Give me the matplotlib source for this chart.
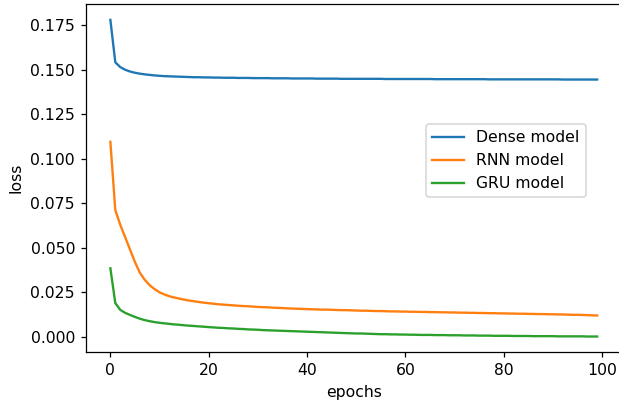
import numpy as np
import matplotlib
matplotlib.use('Agg')
import matplotlib.pyplot as plt

# loss per epoch
dense_loss = [0.1780, 0.1542, 0.1515, 0.1500, 0.1490, 0.1483, 0.1478, 0.1474, 0.1471, 0.1468,
              0.1466, 0.1464, 0.1463, 0.1462, 0.1461, 0.1460, 0.1459, 0.1458, 0.1458, 0.1457,
              0.1457, 0.1456, 0.1456, 0.1455, 0.1455, 0.1455, 0.1454, 0.1454, 0.1454, 0.1453,
              0.1453, 0.1453, 0.1453, 0.1452, 0.1452, 0.1452, 0.1452, 0.1451, 0.1451, 0.1451,
              0.1451, 0.1451, 0.1450, 0.1450, 0.1450, 0.1450, 0.1450, 0.1449, 0.1449, 0.1449,
              0.1449, 0.1449, 0.1449, 0.1449, 0.1449, 0.1449, 0.1448, 0.1448, 0.1448, 0.1448,
              0.1448, 0.1448, 0.1448, 0.1448, 0.1448, 0.1448, 0.1447, 0.1447, 0.1447, 0.1447,
              0.1447, 0.1447, 0.1447, 0.1447, 0.1447, 0.1447, 0.1447, 0.1446, 0.1446, 0.1446,
              0.1446, 0.1446, 0.1446, 0.1446, 0.1446, 0.1446, 0.1446, 0.1446, 0.1446, 0.1446,
              0.1446, 0.1446, 0.1445, 0.1445, 0.1445, 0.1445, 0.1445, 0.1445, 0.1445, 0.1445]

rnn_loss = [0.1095, 0.0712, 0.0630, 0.0560, 0.0490, 0.0420, 0.0360, 0.0320, 0.0290, 0.0268,
            0.0250, 0.0238, 0.0228, 0.0221, 0.0215, 0.0209, 0.0204, 0.0200, 0.0196, 0.0192,
            0.0189, 0.0186, 0.0183, 0.0181, 0.0179, 0.0177, 0.0175, 0.0173, 0.0172, 0.0170,
            0.0168, 0.0167, 0.0166, 0.0164, 0.0163, 0.0162, 0.0160, 0.0159, 0.0158, 0.0157,
            0.0156, 0.0155, 0.0154, 0.0153, 0.0153, 0.0152, 0.0151, 0.0150, 0.0150, 0.0149,
            0.0148, 0.0147, 0.0147, 0.0146, 0.0145, 0.0145, 0.0144, 0.0143, 0.0143, 0.0142,
            0.0142, 0.0141, 0.0141, 0.0140, 0.0140, 0.0139, 0.0139, 0.0138, 0.0138, 0.0137,
            0.0137, 0.0136, 0.0136, 0.0135, 0.0135, 0.0134, 0.0134, 0.0133, 0.0133, 0.0132,
            0.0132, 0.0131, 0.0131, 0.0130, 0.0130, 0.0129, 0.0129, 0.0128, 0.0128, 0.0127,
            0.0127, 0.0126, 0.0126, 0.0125, 0.0124, 0.0124, 0.0123, 0.0122, 0.0121, 0.0120]

gru_loss = [0.0385, 0.0190, 0.0152, 0.0135, 0.0123, 0.0112, 0.0102, 0.0094, 0.0088, 0.0083,
            0.0079, 0.0076, 0.0073, 0.0070, 0.0068, 0.0065, 0.0063, 0.0061, 0.0059, 0.0057,
            0.0055, 0.0053, 0.0051, 0.0050, 0.0048, 0.0047, 0.0045, 0.0044, 0.0042, 0.0041,
            0.0040, 0.0038, 0.0037, 0.0036, 0.0035, 0.0034, 0.0033, 0.0032, 0.0031, 0.0030,
            0.0029, 0.0028, 0.0027, 0.0026, 0.0025, 0.0024, 0.0023, 0.0022, 0.0021, 0.0020,
            0.0019, 0.0019, 0.0018, 0.0017, 0.0016, 0.0015, 0.0015, 0.0014, 0.0014, 0.0013,
            0.0013, 0.0012, 0.0012, 0.0011, 0.0011, 0.0011, 0.0010, 0.0010, 0.0010, 0.0009,
            0.0009, 0.0009, 0.0008, 0.0008, 0.0008, 0.0007, 0.0007, 0.0007, 0.0006, 0.0006,
            0.0006, 0.0006, 0.0005, 0.0005, 0.0005, 0.0005, 0.0004, 0.0004, 0.0004, 0.0004,
            0.0004, 0.0003, 0.0003, 0.0003, 0.0003, 0.0003, 0.0003, 0.0002, 0.0002, 0.0002]

epochs = np.arange(len(dense_loss))

# reference is a bit larger than default 100 dpi, so scale via dpi
dpi = 112.5
fig, ax = plt.subplots(figsize=(619 / dpi, 405 / dpi), dpi=dpi)
# right spine sits just past the image edge in the reference
fig.subplots_adjust(left=0.139, right=1.004, bottom=0.13, top=0.99)

ax.plot(epochs, dense_loss, label='Dense model')
ax.plot(epochs, rnn_loss, label='RNN model')
ax.plot(epochs, gru_loss, label='GRU model')

ax.set_xlabel('epochs')
ax.set_ylabel('loss')
ax.legend(loc='center', bbox_to_anchor=(0.784, 0.55))

fig.savefig('out.png', dpi=dpi)
